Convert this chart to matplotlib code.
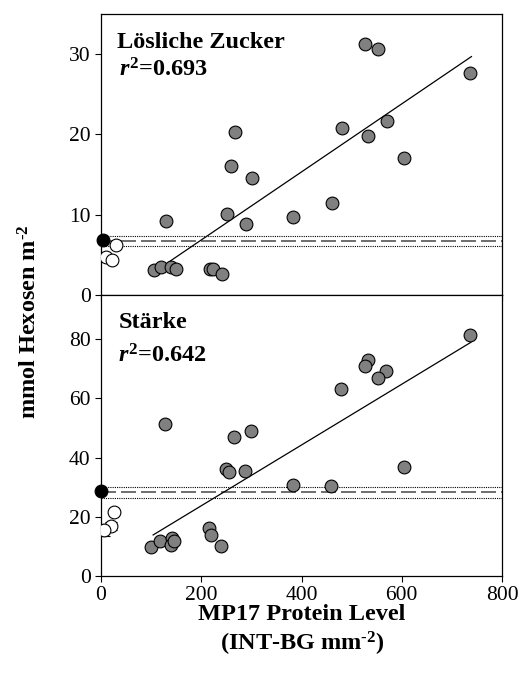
import matplotlib
matplotlib.use("Agg")
import matplotlib.pyplot as plt
import numpy as np

plt.rcParams['font.family'] = ['Liberation Serif', 'DejaVu Serif']
plt.rcParams['mathtext.fontset'] = 'custom'
plt.rcParams['mathtext.rm'] = 'Liberation Serif:bold'
plt.rcParams['mathtext.it'] = 'Liberation Serif:italic:bold'
plt.rcParams['mathtext.bf'] = 'Liberation Serif:bold'

# ---- data: loesliche Zucker (top) ----
zu_x = [527, 552, 737, 571, 480, 533, 605, 267, 259, 302, 460, 384, 251, 289, 130,
        105, 120, 140, 149, 218, 223, 241]
zu_y = [31.25, 30.6, 27.6, 21.7, 20.8, 19.8, 17.1, 20.3, 16.1, 14.6, 11.4, 9.7, 10.1, 8.8, 9.2,
        3.1, 3.5, 3.5, 3.2, 3.3, 3.2, 2.6]
zu_wt_x = [30, 9, 22]
zu_wt_y = [6.25, 4.7, 4.4]
zu_ctrl_x = [3]
zu_ctrl_y = [6.9]
zu_mean, zu_lo, zu_hi = 6.75, 6.08, 7.33
zu_fit_x = [135, 739]
zu_fit_y = [4.1, 29.7]

# ---- data: Staerke (bottom) ----
st_x = [737, 532, 526, 569, 552, 479, 128, 299, 265, 249, 256, 288, 604, 384, 459,
        215, 220, 239, 99, 117, 141, 140, 146]
st_y = [81.5, 73.0, 71.0, 69.4, 66.8, 63.1, 51.2, 48.9, 47.1, 36.1, 35.2, 35.4, 36.8, 30.6, 30.2,
        16.0, 13.7, 9.9, 9.8, 11.8, 12.9, 10.4, 11.6]
st_wt_x = [25, 19, 5]
st_wt_y = [21.4, 16.9, 15.5]
st_wt_err = [0.0, 1.4, 2.0]
st_ctrl_x = [0]
st_ctrl_y = [28.7]
st_mean, st_lo, st_hi = 28.4, 26.3, 30.1
st_fit_x = [104, 738]
st_fit_y = [13.8, 79.0]

fig = plt.figure(figsize=(5.22, 6.84), dpi=100)
ax1 = fig.add_axes([0.1935, 0.5687, 0.7682, 0.4108])
ax2 = fig.add_axes([0.1935, 0.1583, 0.7682, 0.4104])

gray = '#808080'
ms = 9.2
fs_lab = 17.5


def panel(ax, x, y, wx, wy, werr, cx, cy, mean, lo, hi, fx, fy):
    ax.axhline(mean, color='#555555', lw=1.2, ls=(0, (9, 3)), zorder=1)
    ax.axhline(lo, color='black', lw=0.8, ls=(0, (1, 1)), zorder=1)
    ax.axhline(hi, color='black', lw=0.8, ls=(0, (1, 1)), zorder=1)
    ax.plot(fx, fy, color='black', lw=0.9, zorder=2)
    ax.plot(x, y, 'o', ms=ms, mfc=gray, mec='black', mew=0.8, zorder=3)
    if werr is not None:
        ax.errorbar(wx, wy, yerr=werr, fmt='none', ecolor='black', elinewidth=0.8,
                    capsize=4, capthick=0.8, zorder=3)
    ax.plot(wx, wy, 'o', ms=ms, mfc='white', mec='black', mew=0.8, zorder=4)
    ax.plot(cx, cy, 'o', ms=ms, mfc='black', mec='black', mew=0.8, zorder=5, clip_on=False)
    ax.set_xlim(0, 800)
    ax.set_xticks([0, 200, 400, 600, 800])
    ax.tick_params(direction='out', length=4, width=0.8, labelsize=15.5)
    for s in ax.spines.values():
        s.set_linewidth(0.9)


panel(ax1, zu_x, zu_y, zu_wt_x, zu_wt_y, None, zu_ctrl_x, zu_ctrl_y,
      zu_mean, zu_lo, zu_hi, zu_fit_x, zu_fit_y)
panel(ax2, st_x, st_y, st_wt_x, st_wt_y, st_wt_err, st_ctrl_x, st_ctrl_y,
      st_mean, st_lo, st_hi, st_fit_x, st_fit_y)

ax1.set_ylim(0, 35)
ax1.set_yticks([0, 10, 20, 30])
ax1.tick_params(axis='x', labelbottom=False)
ax2.set_ylim(0, 95)
ax2.set_yticks([0, 20, 40, 60, 80])

ax1.text(0.039, 0.879, 'Lösliche Zucker', transform=ax1.transAxes, fontsize=fs_lab,
         fontweight='bold', va='baseline')
ax1.text(0.045, 0.779, r'$\mathit{r}^{2}$=0.693', transform=ax1.transAxes, fontsize=fs_lab,
         fontweight='bold', va='baseline')
ax2.text(0.043, 0.881, 'Stärke', transform=ax2.transAxes, fontsize=fs_lab,
         fontweight='bold', va='baseline')
ax2.text(0.043, 0.759, r'$\mathit{r}^{2}$=0.642', transform=ax2.transAxes, fontsize=fs_lab,
         fontweight='bold', va='baseline')

fig.text(30/522, 1-322/684, r'mmol Hexosen m$^{\text{-2}}$', rotation=90, fontsize=fs_lab,
         fontweight='bold', ha='center', va='center')
fig.text(302/522, 1-615/684, 'MP17 Protein Level', fontsize=fs_lab, fontweight='bold',
         ha='center', va='center')
fig.text(302/522, 1-644/684, r'(INT-BG mm$^{\text{-2}}$)', fontsize=fs_lab, fontweight='bold',
         ha='center', va='center')

fig.savefig('out.png', dpi=100)
